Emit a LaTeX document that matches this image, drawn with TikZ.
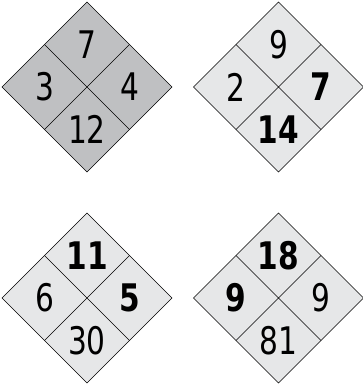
\documentclass[tikz,border=0pt]{standalone}
\usepackage{fontspec}
\setmainfont{DejaVu Sans}
\definecolor{darkgr}{HTML}{BFC0C2}
\definecolor{lightgr}{HTML}{E6E7E8}
\newcommand\nm[1]{\scalebox{0.78}[1]{#1}}
\tikzset{
  dia/.style={draw,line width=.6pt},
  num/.style={inner sep=0pt,font=\fontsize{38}{40}\selectfont},
  bnum/.style={inner sep=0pt,font=\fontsize{38}{40}\selectfont\bfseries},
}
\begin{document}
\begin{tikzpicture}[x=1pt,y=-1pt]
\useasboundingbox (0,0) rectangle (363,389);
% top left square
\draw[dia,fill=darkgr] (87,2)--(172,87)--(87,172)--(2,87)--cycle;
\draw[dia] (44.5,44.5)--(129.5,129.5) (129.5,44.5)--(44.5,129.5);
\node[num] (a1) at (87,44.5) {\nm{7}};
\node[num] (a2) at (44.5,87) {\nm{3}};
\node[num] (a3) at (129.5,87) {\nm{4}};
\node[num] (a4) at (87,129.5) {\nm{12}};
% top right square
\draw[dia,fill=lightgr] (278.5,2)--(363.5,87)--(278.5,172)--(193.5,87)--cycle;
\draw[dia] (236,44.5)--(321,129.5) (321,44.5)--(236,129.5);
\node[num] (b1) at (278.5,44.5) {\nm{9}};
\node[num] (b2) at (236,87) {\nm{2}};
\node[bnum] (b3) at (321,87) {\nm{7}};
\node[bnum] (b4) at (278.5,129.5) {\nm{14}};
% bottom left square
\draw[dia,fill=lightgr] (87,213)--(172,298)--(87,383)--(2,298)--cycle;
\draw[dia] (44.5,255.5)--(129.5,340.5) (129.5,255.5)--(44.5,340.5);
\node[bnum] (c1) at (87,255.5) {\nm{11}};
\node[num] (c2) at (44.5,298) {\nm{6}};
\node[bnum] (c3) at (129.5,298) {\nm{5}};
\node[num] (c4) at (87,340.5) {\nm{30}};
% bottom right square
\draw[dia,fill=lightgr] (278.5,213)--(363.5,298)--(278.5,383)--(193.5,298)--cycle;
\draw[dia] (236,255.5)--(321,340.5) (321,255.5)--(236,340.5);
\node[bnum] (d1) at (278.5,255.5) {\nm{18}};
\node[bnum] (d2) at (236,298) {\nm{9}};
\node[num] (d3) at (321,298) {\nm{9}};
\node[num] (d4) at (278.5,340.5) {\nm{81}};
\end{tikzpicture}
\end{document}
